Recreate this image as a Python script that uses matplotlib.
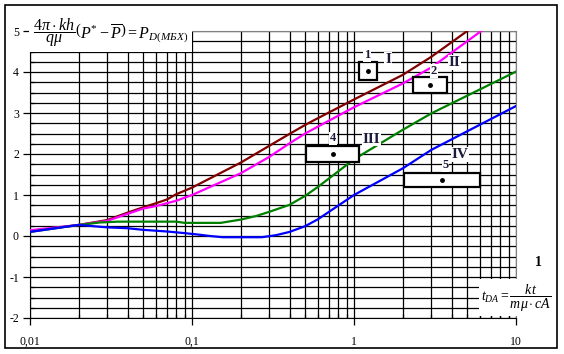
import numpy as np
import matplotlib
matplotlib.use("Agg")
import matplotlib.pyplot as plt
from matplotlib.ticker import LogLocator, MultipleLocator, FixedLocator, FixedFormatter
from matplotlib.patches import Rectangle

plt.rcParams["font.family"] = "Liberation Serif"
plt.rcParams["mathtext.fontset"] = "custom"
plt.rcParams["mathtext.rm"] = "Liberation Serif"
plt.rcParams["mathtext.it"] = "Liberation Serif:italic"
plt.rcParams["axes.unicode_minus"] = False

# curve I (brown)
t_1 = [0.01, 0.02, 0.03, 0.04, 0.05, 0.06, 0.07, 0.08, 0.1, 0.2, 0.3, 0.4, 0.5, 0.57, 1, 2, 3, 5]
p_1 = [0.12, 0.27, 0.39, 0.57, 0.70, 0.80, 0.89, 1.02, 1.18, 1.79, 2.20, 2.49, 2.71, 2.83, 3.33, 3.93, 4.37, 5.0]
# curve II (magenta)
t_2 = [0.01, 0.02, 0.03, 0.04, 0.05, 0.06, 0.07, 0.08, 0.1, 0.2, 0.3, 0.4, 0.5, 0.6, 1, 2, 3, 6.1]
p_2 = [0.14, 0.27, 0.37, 0.54, 0.67, 0.73, 0.80, 0.86, 1.0, 1.53, 1.93, 2.26, 2.50, 2.67, 3.14, 3.72, 4.11, 5.0]
# curve III (green)
t_3 = [0.01, 0.02, 0.027, 0.035, 0.08, 0.09, 0.15, 0.2, 0.25, 0.3, 0.4, 0.5, 0.6, 1, 2, 3, 10]
p_3 = [0.10, 0.27, 0.33, 0.35, 0.35, 0.32, 0.32, 0.40, 0.49, 0.59, 0.76, 0.98, 1.20, 1.87, 2.59, 2.99, 4.01]
# curve IV (blue)
t_4 = [0.01, 0.02, 0.0245, 0.03, 0.04, 0.05, 0.07, 0.09, 0.112, 0.129, 0.155, 0.27, 0.33, 0.4, 0.5, 0.6, 1, 2, 3, 10]
p_4 = [0.10, 0.27, 0.24, 0.21, 0.19, 0.15, 0.11, 0.07, 0.03, 0.0, -0.03, -0.03, 0.02, 0.10, 0.24, 0.41, 1.0, 1.65, 2.10, 3.17]

xticks = [0.01, 0.1, 1, 10]
xtick_labels = ["0,01", "0,1", "1", "10"]
yticks = [-2, -1, 0, 1, 2, 3, 4, 5]

fig = plt.figure(figsize=(5.64, 3.54), dpi=100)
ax = fig.add_axes([30/564, 1-318/354, 486/564, 287/354])

ax.plot(t_1, p_1, color="#800000", lw=1.6, zorder=3)
ax.plot(t_2, p_2, color="#ff00ff", lw=1.6, zorder=3)
ax.plot(t_3, p_3, color="#008000", lw=1.6, zorder=3)
ax.plot(t_4, p_4, color="#0000ff", lw=1.6, zorder=3)

ax.set_xscale("log")
ax.set_xlim(0.01, 10)
ax.set_ylim(-2, 5)
ax.xaxis.set_major_locator(FixedLocator(xticks))
ax.xaxis.set_major_formatter(FixedFormatter(xtick_labels))
ax.xaxis.set_minor_locator(LogLocator(base=10, subs=np.arange(2, 10)))
ax.xaxis.set_minor_formatter(plt.NullFormatter())
ax.set_yticks(yticks)
ax.yaxis.set_minor_locator(MultipleLocator(0.25))
ax.grid(True, which="both", color="black", lw=0.9)
ax.tick_params(which="major", direction="out", length=5, width=0.9, labelsize=8.5)
ax.tick_params(axis="x", which="major", pad=8)
ax.tick_params(axis="y", which="major", pad=3)
ax.tick_params(which="minor", direction="in", length=3, width=0.9)
for s in ["top", "right"]:
    ax.spines[s].set_color("#808080")

# formulas
ax.text(0.166, 0.995, r"$\dfrac{4\pi \cdot kh}{q\mu}\left(P^{*}-\overline{P}\right)=P_{D(\mathit{МБХ})}$",
        transform=ax.transAxes, fontsize=11.5, ha="center", va="center",
        bbox=dict(facecolor="white", edgecolor="none", pad=2.5), zorder=5)
ax.text(1.074, 0.07, r"$t_{DA}=\dfrac{kt}{m\mu \cdot cA}$",
        transform=ax.transAxes, fontsize=10, ha="right", va="center",
        bbox=dict(facecolor="white", edgecolor="none", pad=2), zorder=5, clip_on=False)
fig.text(538/564, 1-262/354, "1", fontsize=10, fontweight="bold", ha="center", va="center")

# marker boxes
boxes = [(0.6776, 0.8293, 0.037, 0.0617), (0.7875, 0.7850, 0.0712, 0.0558),
         (0.5679, 0.5446, 0.1097, 0.0557), (0.7702, 0.4554, 0.1557, 0.0509)]
for x0, y0, w, h in boxes:
    ax.add_patch(Rectangle((x0, y0), w, h, transform=ax.transAxes, facecolor="white",
                           edgecolor="black", lw=1.6, zorder=6))
    ax.plot(x0 + w/2, y0 + h/2, "o", color="black", ms=2.5, transform=ax.transAxes, zorder=7)

labels = [("1", 0.694, 0.916), ("I", 0.737, 0.901), ("2", 0.831, 0.861), ("II", 0.873, 0.890),
          ("4", 0.623, 0.626), ("III", 0.703, 0.623), ("5", 0.855, 0.533), ("IV", 0.885, 0.570)]
for s, x, y in labels:
    fs = 11 if "I" in s else 9
    ax.text(x, y, s, transform=ax.transAxes, fontsize=fs, fontweight="bold", color="#1a1a3a",
            ha="center", va="center", bbox=dict(facecolor="white", edgecolor="none", pad=0.5), zorder=6)

fig.patches.append(Rectangle((5/564, 1-348/354), 552/564, 343/354, transform=fig.transFigure,
                             facecolor="none", edgecolor="black", lw=1.2))

fig.savefig("out.png", dpi=100)
